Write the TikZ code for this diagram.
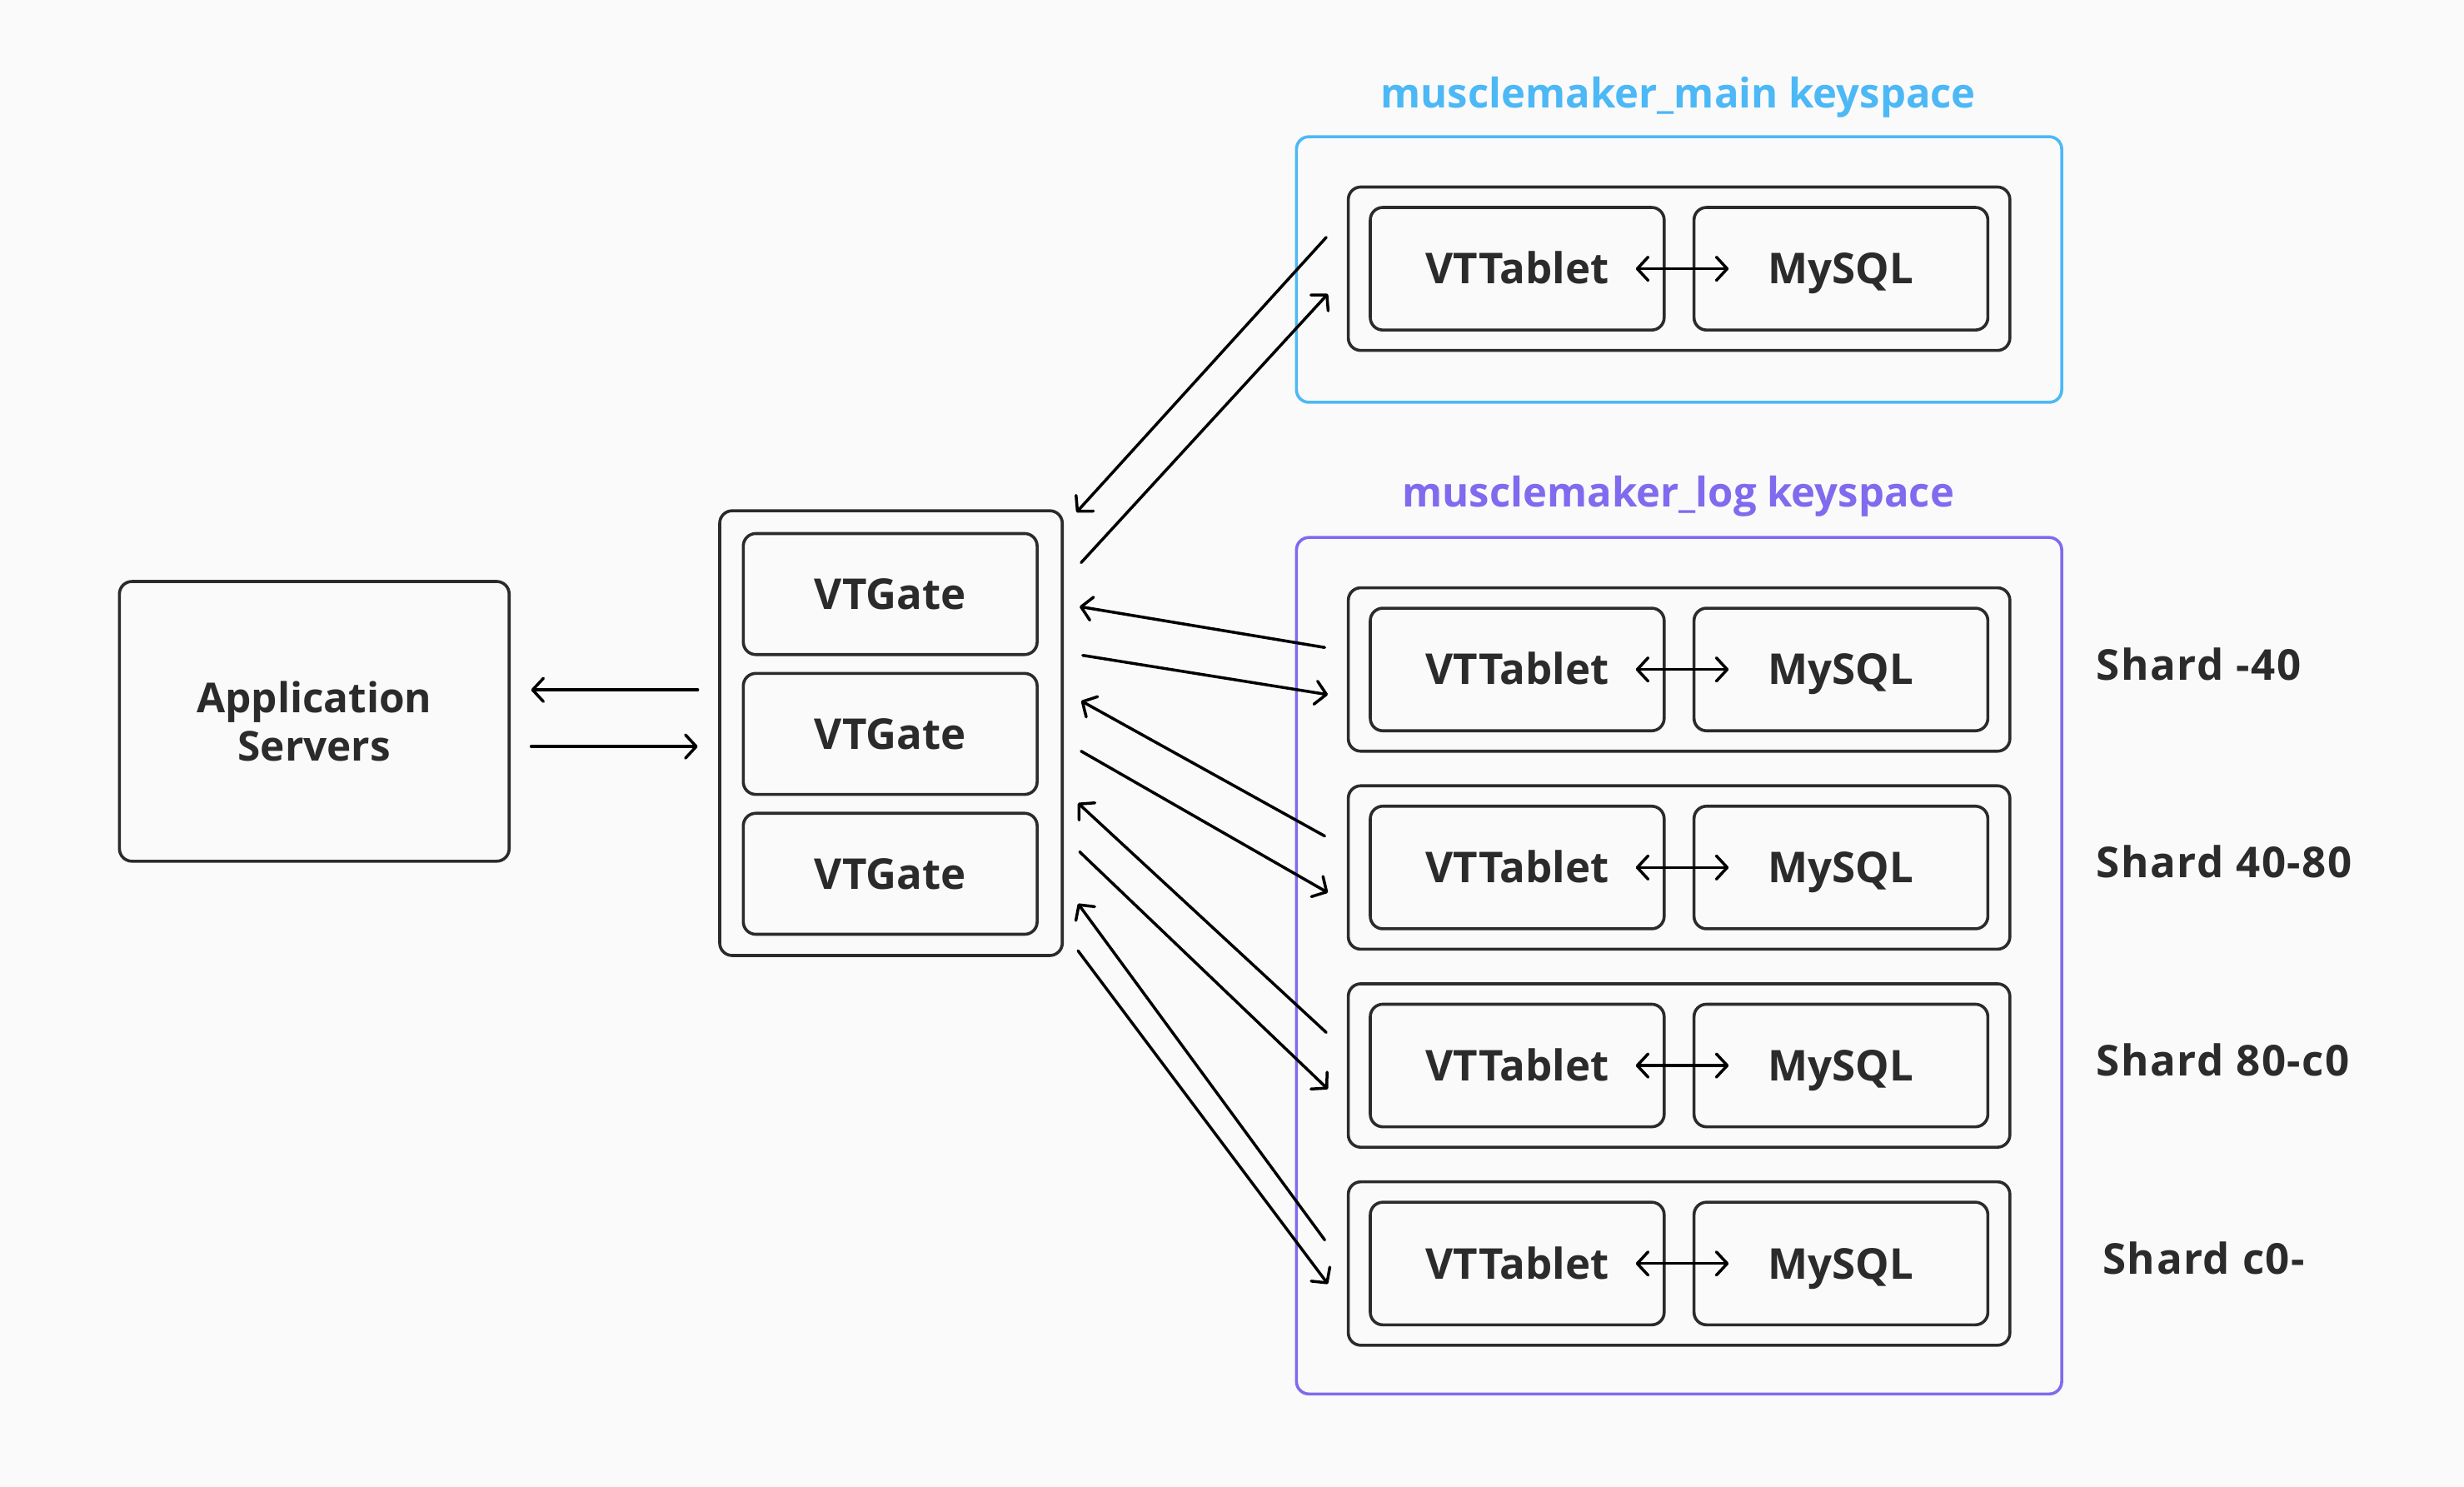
\documentclass[tikz,border=0pt]{standalone}
\usepackage{fontspec}
\setmainfont{Open Sans}
\usetikzlibrary{arrows.meta}
\definecolor{bg}{HTML}{FAFAFA}
\definecolor{ink}{HTML}{2B2B2B}
\definecolor{mainblue}{HTML}{4CB8F6}
\definecolor{logpurple}{HTML}{806AEE}
\newcommand{\sz}{1.886pt}
\begin{document}
\begin{tikzpicture}[x=1.886pt,y=-1.886pt,
  txt/.style={font=\fontsize{51}{61}\selectfont\bfseries, text=ink},
  kstxt/.style={font=\fontsize{49}{59}\selectfont\bfseries},
  box/.style={draw=ink, line width=3.6pt, rounded corners=15pt, inner sep=0pt, txt, text height=36.5pt, text depth=0pt},
  ks/.style={line width=3.6pt, rounded corners=15pt, inner sep=0pt},
  arr/.style={line width=3.5pt, line cap=round, black},
  tip/.style={-{Straight Barb[length=13pt,width=28pt,round]}},
  tips/.style={{Straight Barb[length=13pt,width=28pt,round]}-{Straight Barb[length=13pt,width=28pt,round]}}
]
\fill[bg] (0,0) rectangle (1568,946);
\useasboundingbox (0,0) rectangle (1568,946);

% Application servers
\node[box, minimum width=248*\sz, minimum height=178*\sz] (app) at (200,459) {};
\node[txt, font=\fontsize{49.5}{60}\selectfont\bfseries, align=center, inner sep=0pt] (applbl) at (app.center) {Application\\[-2pt]Servers};

% VTGates
\node[box, minimum width=218*\sz, minimum height=283*\sz] (gates) at (567,466.5) {};
\node[box, minimum width=187*\sz, minimum height=77*\sz] (g1) at (566.5,378) {VTGate};
\node[box, minimum width=187*\sz, minimum height=77*\sz] (g2) at (566.5,467) {VTGate};
\node[box, minimum width=187*\sz, minimum height=77*\sz] (g3) at (566.5,556) {VTGate};

% main keyspace
\node[ks, draw=mainblue, minimum width=487*\sz, minimum height=169*\sz] (mainks) at (1068.5,171.5) {};
\node[kstxt, text=mainblue] (mainlbl) at (1068,62) {musclemaker\_main keyspace};
\node[box, minimum width=421*\sz, minimum height=104*\sz] (mainrow) at (1068.5,171) {};
\node[box, minimum width=187*\sz, minimum height=78*\sz] (mt) at (965.5,171) {VTTablet};
\node[box, minimum width=187*\sz, minimum height=78*\sz] (mm) at (1171.5,171) {MySQL};
\draw[arr,tips] ([xshift=-19*\sz]mt.east) -- ([xshift=23*\sz]mm.west);

% log keyspace
\node[ks, draw=logpurple, minimum width=487*\sz, minimum height=545*\sz] (logks) at (1068.5,614.5) {};
\node[kstxt, text=logpurple] (loglbl) at (1068,316) {musclemaker\_log keyspace};

\foreach \i/\y/\lab/\lx in {1/426/{Shard -40}/1334, 2/552/{Shard 40-80}/1334, 3/678/{Shard 80-c0}/1334, 4/804/{Shard c0-}/1338}{
  \node[box, minimum width=421*\sz, minimum height=104*\sz] (row\i) at (1068.5,\y) {};
  \node[box, minimum width=187*\sz, minimum height=78*\sz] (t\i) at (965.5,\y) {VTTablet};
  \node[box, minimum width=187*\sz, minimum height=78*\sz] (m\i) at (1171.5,\y) {MySQL};
  \draw[arr,tips] ([xshift=-19*\sz]t\i.east) -- ([xshift=23*\sz]m\i.west);
  \node[txt, anchor=west, inner sep=0pt, text height=36.5pt, text depth=0pt] (lab\i) at (\lx,\y-3) {\addfontfeatures{LetterSpace=3}\lab};
}

% app <-> gates
\coordinate (ag1) at (444,439);
\coordinate (ag2) at (338,439);
\coordinate (ag3) at (338,475);
\coordinate (ag4) at (444,475);
\draw[arr,tip] (ag1) -- (ag2);
\draw[arr,tip] (ag3) -- (ag4);

% gates <-> main keyspace
\coordinate (ma1) at (844,151);
\coordinate (ma2) at (685,326);
\coordinate (ma3) at (688,358);
\coordinate (ma4) at (845,187);
\draw[arr,tip] (ma1) -- (ma2);
\draw[arr,tip] (ma3) -- (ma4);

% gates <-> shards
\coordinate (s1a) at (843,412); \coordinate (s1b) at (687,386);
\coordinate (s1c) at (689,417); \coordinate (s1d) at (845,442);
\coordinate (s2a) at (843,532); \coordinate (s2b) at (688,446);
\coordinate (s2c) at (688,478); \coordinate (s2d) at (845,568);
\coordinate (s3a) at (844,657); \coordinate (s3b) at (686,511);
\coordinate (s3c) at (687,542); \coordinate (s3d) at (845,693);
\coordinate (s4a) at (843,789); \coordinate (s4b) at (686,575);
\coordinate (s4c) at (686,605); \coordinate (s4d) at (845,817);
\foreach \s in {s1,s2,s3,s4}{
  \draw[arr,tip] (\s a) -- (\s b);
  \draw[arr,tip] (\s c) -- (\s d);
}
\end{tikzpicture}
\end{document}
